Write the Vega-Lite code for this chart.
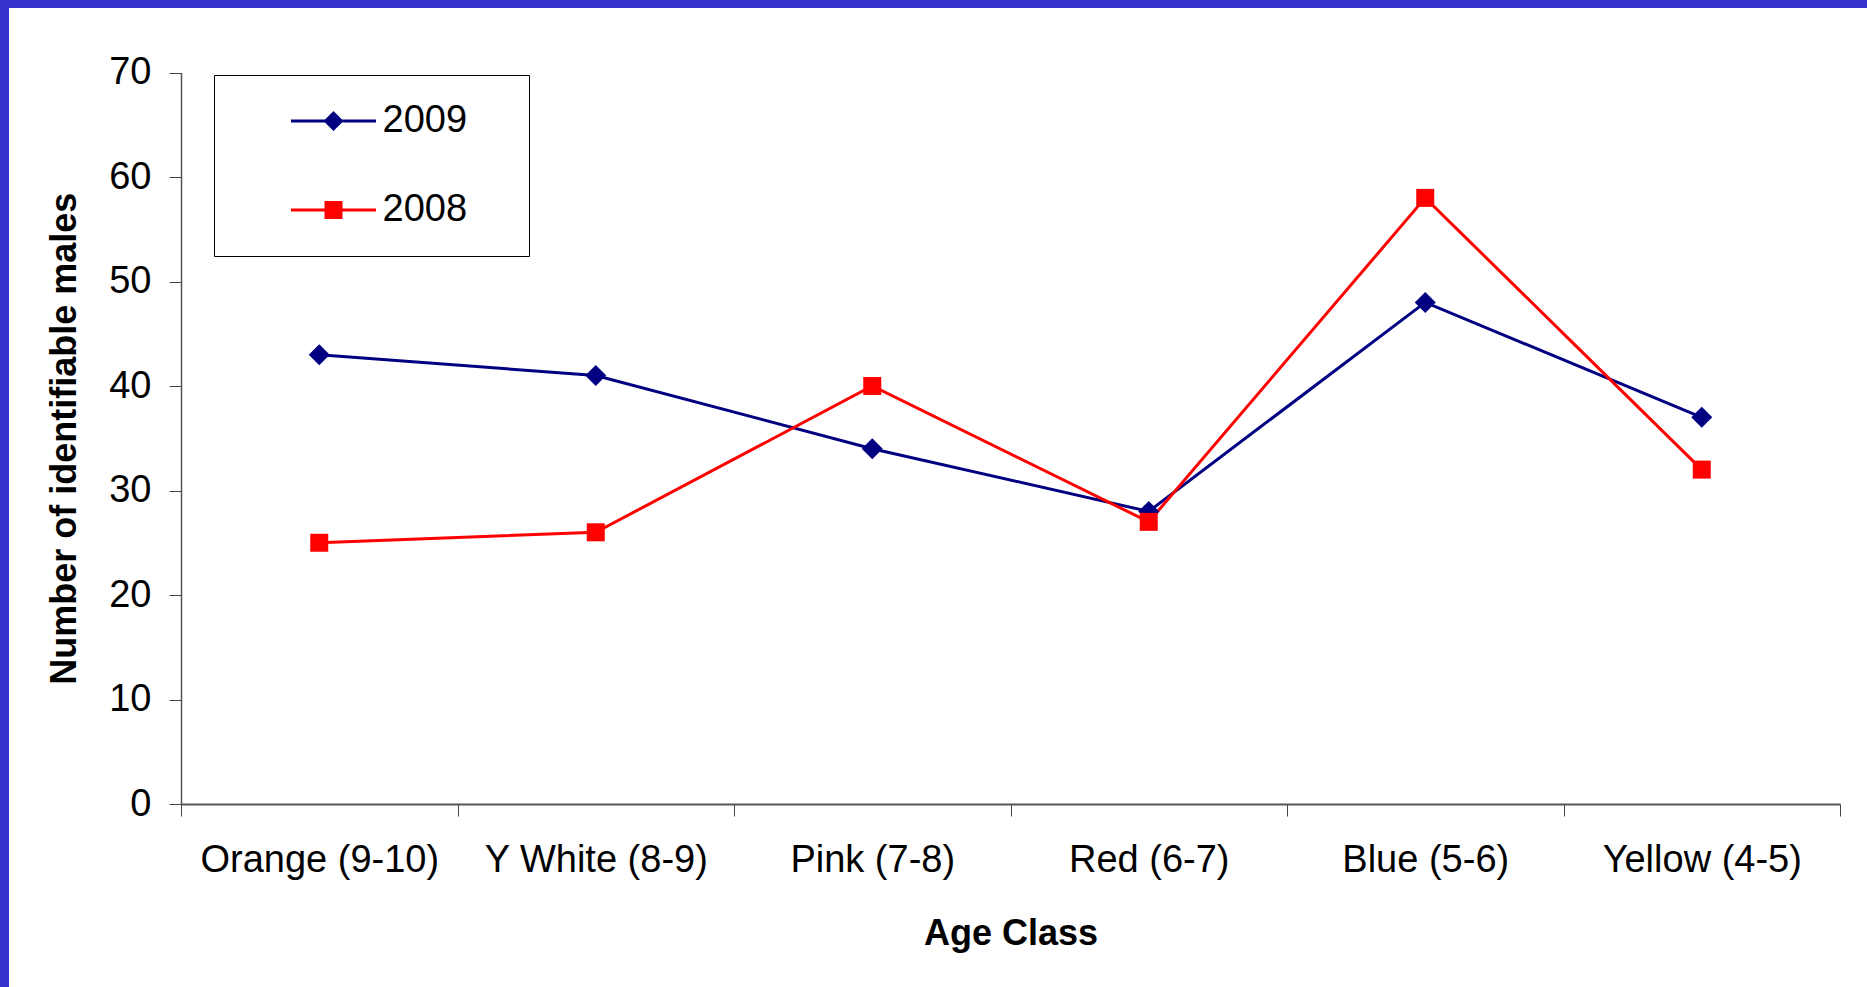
{
  "$schema": "https://vega.github.io/schema/vega-lite/v6.json",
  "width": 1858,
  "height": 979,
  "autosize": {"type": "none"},
  "padding": {"left": 9, "top": 8, "right": 0, "bottom": 0},
  "background": "#3333CC",
  "config": {
    "view": {"fill": "white", "stroke": null},
    "font": "Liberation Sans"
  },
  "data": {
    "values": [
      {"age": "Orange (9-10)", "year": "2009", "males": 43},
      {"age": "Y White (8-9)", "year": "2009", "males": 41},
      {"age": "Pink (7-8)", "year": "2009", "males": 34},
      {"age": "Red (6-7)", "year": "2009", "males": 28},
      {"age": "Blue (5-6)", "year": "2009", "males": 48},
      {"age": "Yellow (4-5)", "year": "2009", "males": 37},
      {"age": "Orange (9-10)", "year": "2008", "males": 25},
      {"age": "Y White (8-9)", "year": "2008", "males": 26},
      {"age": "Pink (7-8)", "year": "2008", "males": 40},
      {"age": "Red (6-7)", "year": "2008", "males": 27},
      {"age": "Blue (5-6)", "year": "2008", "males": 58},
      {"age": "Yellow (4-5)", "year": "2008", "males": 32}
    ]
  },
  "encoding": {
    "x": {
      "field": "age",
      "type": "nominal",
      "sort": ["Orange (9-10)", "Y White (8-9)", "Pink (7-8)", "Red (6-7)", "Blue (5-6)", "Yellow (4-5)"],
      "scale": {"type": "band", "range": [172, 1831], "paddingInner": 0, "paddingOuter": 0},
      "axis": {
        "title": "Age Class",
        "offset": -183,
        "labelAngle": 0,
        "labelLimit": 0,
        "labelFontSize": 38,
        "labelColor": "#000",
        "labelPadding": 25,
        "tickBand": "extent",
        "tickSize": 12,
        "tickColor": "#444",
        "tickWidth": 1,
        "domainColor": "#555",
        "domainWidth": 2,
        "titleFontSize": 36,
        "titleFontWeight": "bold",
        "titleColor": "#000",
        "titlePadding": 37
      }
    },
    "y": {
      "field": "males",
      "type": "quantitative",
      "scale": {"domain": [0, 70], "range": [796, 64.5], "nice": false},
      "axis": {
        "title": "Number of identifiable males",
        "offset": -172,
        "values": [0, 10, 20, 30, 40, 50, 60, 70],
        "grid": false,
        "labelFontSize": 38,
        "labelColor": "#000",
        "labelPadding": 18,
        "tickSize": 12,
        "tickColor": "#444",
        "tickWidth": 1,
        "domainColor": "#555",
        "domainWidth": 1.5,
        "titleFontSize": 36,
        "titleFontWeight": "bold",
        "titleColor": "#000",
        "titlePadding": 25
      }
    },
    "color": {
      "field": "year",
      "type": "nominal",
      "scale": {"domain": ["2009", "2008"], "range": ["#000080", "#FF0000"]},
      "legend": {
        "title": null,
        "orient": "none",
        "legendX": 205,
        "legendY": 67,
        "padding": 27,
        "strokeColor": "#000",
        "fillColor": "white",
        "labelFontSize": 38,
        "labelColor": "#000",
        "labelLimit": 0,
        "labelExpr": "datum.label + '\u00a0\u00a0\u00a0\u200a\u200b'",
        "symbolSize": 400,
        "symbolStrokeWidth": 0,
        "symbolOpacity": 1,
        "symbolOffset": 73.5,
        "labelOffset": 30,
        "rowPadding": 51,
        "encode": {
          "symbols": {
            "update": {
              "size": {"value": 400},
              "strokeWidth": {"value": 0},
              "fill": {"signal": "datum.value === '2009' ? '#000080' : '#FF0000'"},
              "fillOpacity": {"value": 1},
              "opacity": {"value": 1},
              "shape": {"signal": "datum.value === '2009' ? 'M-4.25,-0.14L4.25,-0.14L4.25,0.14L-4.25,0.14Z M0,-1L1,0L0,1L-1,0Z' : 'M-4.25,-0.14L4.25,-0.14L4.25,0.14L-4.25,0.14Z M-0.9,-0.9L0.9,-0.9L0.9,0.9L-0.9,0.9Z'"}
            }
          }
        }
      }
    }
  },
  "layer": [
    {
      "mark": {"type": "line", "strokeWidth": 3}
    },
    {
      "mark": {"type": "point", "filled": true, "opacity": 1, "strokeWidth": 0},
      "encoding": {
        "shape": {
          "condition": {"test": "datum.year === '2009'", "value": "diamond"},
          "value": "square"
        },
        "size": {
          "condition": {"test": "datum.year === '2009'", "value": 441},
          "value": 324
        }
      }
    }
  ]
}
